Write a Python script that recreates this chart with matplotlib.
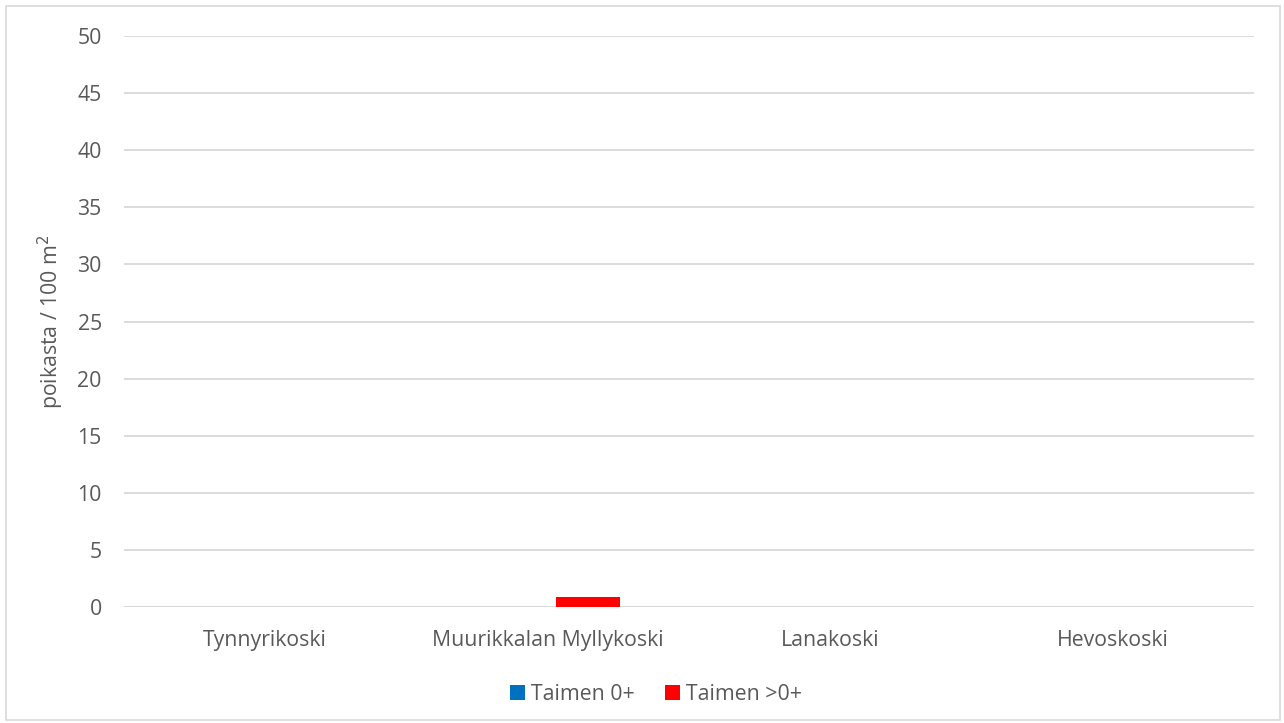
import numpy as np
import matplotlib
matplotlib.use("Agg")
import matplotlib.pyplot as plt
from matplotlib.patches import Rectangle

# data
sites = ["Tynnyrikoski", "Muurikkalan Myllykoski", "Lanakoski", "Hevoskoski"]
taimen_0 = [0.0, 0.0, 0.0, 0.0]
taimen_yli0 = [0.0, 0.9, 0.0, 0.0]
yticks = [0, 5, 10, 15, 20, 25, 30, 35, 40, 45, 50]

text_col = "#595959"
grid_col = "#d9d9d9"
fs = 15.3
plt.rcParams["font.family"] = ["Open Sans", "DejaVu Sans"]

fig = plt.figure(figsize=(12.84, 7.23), dpi=100)
ax = fig.add_axes([124 / 1284, 1 - 607 / 723, 1130 / 1284, 571 / 723])

x = np.arange(len(sites))
w = 0.2265
gap = 0.028
ax.bar(x - gap - w, taimen_0, width=w, align="edge", color="#0070c0", label="Taimen 0+", zorder=3)
ax.bar(x + gap, taimen_yli0, width=w, align="edge", color="#ff0000", label="Taimen >0+", zorder=3)

ax.set_xlim(-0.5, len(sites) - 0.5)
ax.set_ylim(0, 50)
ax.set_yticks(yticks)
ax.set_xticks(x)
ax.set_xticklabels(sites)
ax.tick_params(length=0, labelsize=fs, colors=text_col)
ax.tick_params(axis="y", pad=16)
ax.tick_params(axis="x", pad=16.5)
ax.yaxis.grid(True, color=grid_col, linewidth=1.3, zorder=0)
for s in ax.spines.values():
    s.set_visible(False)
ax.axhline(0, color=grid_col, linewidth=1.3, zorder=2)

ax.set_ylabel("poikasta / 100 m$^2$", fontsize=fs, color=text_col, labelpad=8)

fig.legend(loc="center", bbox_to_anchor=(656 / 1284, 1 - 694 / 723), ncol=2,
           frameon=False, fontsize=fs, labelcolor=text_col, handlelength=0.7,
           handleheight=0.7, handletextpad=0.3, columnspacing=1.4)

fig.patches.append(Rectangle((6 / 1284, 3 / 723), 1274 / 1284, 714 / 723,
                             transform=fig.transFigure, fill=False,
                             edgecolor=grid_col, linewidth=1.2))

fig.savefig("out.png", dpi=100)
